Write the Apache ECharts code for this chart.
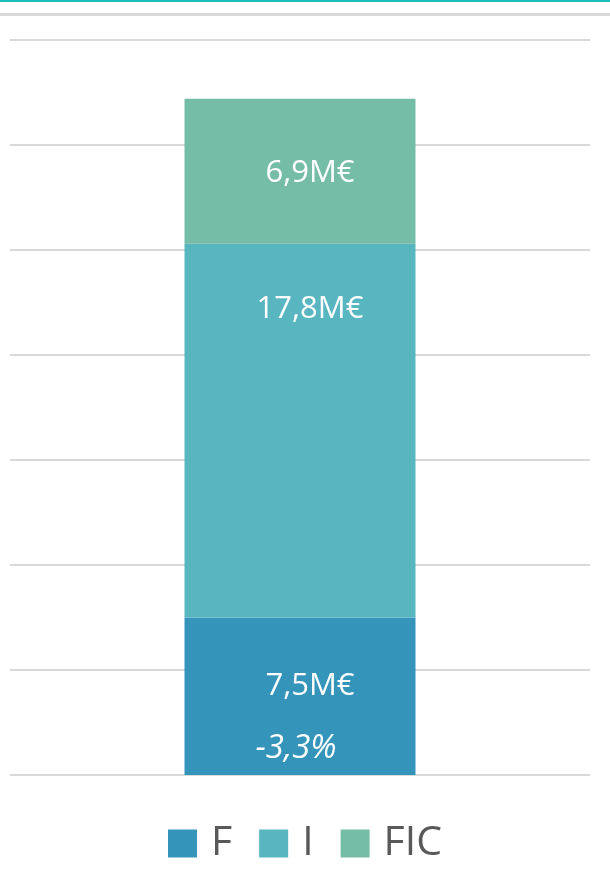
<!DOCTYPE html>
<html>
<head>
<meta charset="utf-8">
<script src="https://cdn.jsdelivr.net/npm/echarts@6/dist/echarts.min.js"></script>
<style>
  html, body { margin: 0; padding: 0; background: #fff; }
  #top-line { position: absolute; left: 0; top: 0; width: 610px; height: 2px; background: #1bbcb9; }
  #sub-line { position: absolute; left: 0; top: 13px; width: 610px; height: 3px; background: #d9d9d9; }
  #chart { position: absolute; left: 0; top: 0; width: 610px; height: 891px; }
</style>
</head>
<body>
<div id="top-line"></div>
<div id="sub-line"></div>
<div id="chart"></div>
<script>
// data
var categories = [''];
var seriesNames = ['F', 'I', 'FIC'];
var fValues = [7.5];
var iValues = [17.8];
var ficValues = [6.9];
var fGrowth = ['-3,3%'];
var yTicks = [0, 5, 10, 15, 20, 25, 30, 35];

var colors = ['#3494ba', '#58b6c0', '#75bda7'];

function money(v) {
    return v.toFixed(1).replace('.', ',') + 'M€';
}

var chart = echarts.init(document.getElementById('chart'));
var option = {
    animation: false,
    color: colors,
    grid: {
        left: 10,
        right: 20,
        top: 40,
        bottom: 116,
        containLabel: false
    },
    legend: {
        data: seriesNames,
        bottom: 22,
        left: 163,
        icon: 'rect',
        itemWidth: 29,
        itemHeight: 28,
        itemGap: 27,
        textStyle: {
            fontFamily: 'Open Sans',
            fontSize: 41,
            color: '#595959',
            padding: [0, 0, 0, 9]
        }
    },
    xAxis: {
        type: 'category',
        data: categories,
        axisLine: { show: false },
        axisTick: { show: false },
        axisLabel: { show: false }
    },
    yAxis: {
        type: 'value',
        min: yTicks[0],
        max: yTicks[yTicks.length - 1],
        interval: 5,
        axisLabel: { show: false },
        axisLine: { show: false },
        axisTick: { show: false },
        splitLine: { lineStyle: { color: '#d9d9d9', width: 2 } }
    },
    series: [{
        name: 'F',
        type: 'bar',
        stack: 'total',
        barWidth: 231,
        data: fValues,
        label: {
            show: true,
            position: 'inside',
            offset: [10, 21],
            formatter: function (p) {
                return '{a|' + money(p.value) + '}\n{b|' + fGrowth[p.dataIndex] + '}';
            },
            rich: {
                a: { fontFamily: 'Open Sans', fontSize: 31, color: '#fff', lineHeight: 62 },
                b: { fontFamily: 'Open Sans', fontSize: 33, fontStyle: 'italic', color: '#fff', lineHeight: 62, padding: [0, 28, 0, 0] }
            }
        }
    }, {
        name: 'I',
        type: 'bar',
        stack: 'total',
        data: iValues,
        label: {
            show: true,
            position: 'insideTop',
            distance: 50,
            offset: [10, 0],
            color: '#fff',
            fontFamily: 'Open Sans',
            fontSize: 31,
            formatter: function (p) { return money(p.value); }
        }
    }, {
        name: 'FIC',
        type: 'bar',
        stack: 'total',
        data: ficValues,
        label: {
            show: true,
            position: 'inside',
            offset: [10, 2],
            color: '#fff',
            fontFamily: 'Open Sans',
            fontSize: 31,
            formatter: function (p) { return money(p.value); }
        }
    }]
};
chart.setOption(option);
</script>
</body>
</html>
